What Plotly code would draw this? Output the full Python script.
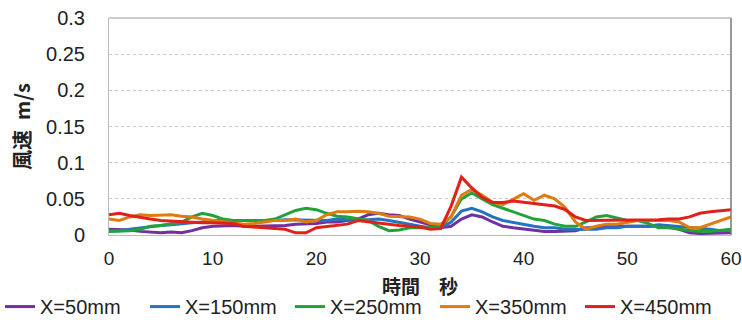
import plotly.graph_objects as go

time_s = list(range(0, 61))

x50 = [0.008,0.008,0.007,0.005,0.004,0.003,0.004,0.003,0.006,0.010,0.012,0.013,0.013,0.012,0.012,0.013,0.012,0.013,0.015,0.015,
       0.016,0.018,0.018,0.020,0.022,0.028,0.030,0.028,0.027,0.022,0.018,0.014,0.010,0.012,0.022,0.028,0.025,0.018,0.012,0.010,
       0.008,0.006,0.005,0.005,0.005,0.006,0.010,0.010,0.012,0.012,0.012,0.012,0.013,0.012,0.012,0.008,0.003,0.002,0.002,0.002,0.003]
x150 = [0.006,0.006,0.008,0.010,0.012,0.013,0.014,0.016,0.017,0.018,0.020,0.020,0.020,0.019,0.019,0.020,0.020,0.021,0.021,0.020,
        0.020,0.020,0.022,0.021,0.020,0.021,0.022,0.020,0.018,0.015,0.012,0.010,0.010,0.018,0.033,0.037,0.032,0.025,0.020,0.017,
        0.015,0.012,0.010,0.010,0.008,0.008,0.007,0.008,0.010,0.010,0.012,0.012,0.012,0.014,0.013,0.012,0.010,0.010,0.008,0.006,0.007]
x250 = [0.005,0.005,0.006,0.008,0.012,0.013,0.015,0.018,0.025,0.030,0.027,0.022,0.020,0.020,0.020,0.020,0.022,0.028,0.034,0.037,
        0.035,0.030,0.026,0.025,0.022,0.020,0.012,0.006,0.007,0.010,0.010,0.010,0.012,0.025,0.050,0.058,0.050,0.042,0.037,0.032,
        0.028,0.022,0.020,0.015,0.012,0.012,0.018,0.025,0.027,0.023,0.020,0.020,0.016,0.010,0.010,0.008,0.006,0.005,0.005,0.006,0.008]
x350 = [0.022,0.020,0.025,0.028,0.027,0.027,0.028,0.026,0.025,0.022,0.020,0.018,0.016,0.015,0.016,0.018,0.020,0.020,0.022,0.018,
        0.020,0.028,0.032,0.032,0.033,0.032,0.030,0.026,0.025,0.025,0.022,0.016,0.015,0.025,0.055,0.063,0.055,0.045,0.042,0.050,
        0.057,0.048,0.055,0.050,0.038,0.018,0.008,0.012,0.015,0.015,0.018,0.020,0.020,0.020,0.020,0.018,0.010,0.010,0.015,0.020,0.025]
x450 = [0.028,0.030,0.027,0.024,0.022,0.020,0.019,0.018,0.018,0.017,0.017,0.016,0.016,0.012,0.011,0.011,0.010,0.008,0.003,0.003,
        0.010,0.012,0.013,0.015,0.020,0.018,0.016,0.015,0.013,0.012,0.011,0.008,0.009,0.040,0.080,0.065,0.052,0.045,0.045,0.047,
        0.045,0.043,0.042,0.040,0.035,0.025,0.020,0.020,0.020,0.020,0.020,0.020,0.020,0.021,0.022,0.022,0.025,0.030,0.032,0.033,0.035]

series_names = ["X=50mm", "X=150mm", "X=250mm", "X=350mm", "X=450mm"]
series_values = [x50, x150, x250, x350, x450]
colors = ["#7030A0", "#2472C0", "#22A33A", "#E07B10", "#E0201B"]
x_title = "<b>時間　秒</b>"
y_title = "<b>風速\u2002m/s</b>"

fig = go.Figure()
for name, vals, col in zip(series_names, series_values, colors):
    fig.add_trace(go.Scatter(x=time_s, y=vals, name=name, mode="lines",
                             line=dict(color=col, width=3)))

font_main = "Liberation Sans, Arial, sans-serif"
cjk = "Noto Sans CJK JP, sans-serif"

fig.update_layout(
    width=742, height=325,
    margin=dict(l=109, r=11, t=18, b=90, autoexpand=False),
    paper_bgcolor="white", plot_bgcolor="white",
    font=dict(family=font_main, size=20, color="#222"),
    xaxis=dict(range=[0, 60], tickvals=[0, 10, 20, 30, 40, 50, 60],
               showgrid=False, zeroline=False, showline=True, linecolor="#bbbbbb",
               ticks="", ticklabelstandoff=6, tickfont=dict(size=19)),
    yaxis=dict(range=[0, 0.3], tickvals=[0, 0.05, 0.1, 0.15, 0.2, 0.25, 0.3],
               ticktext=["0", "0.05", "0.1", "0.15", "0.2", "0.25", "0.3"],
               showgrid=True, gridcolor="#c8c8c8", griddash="dot", gridwidth=1,
               zeroline=False, showline=True, linecolor="#bbbbbb", mirror=False,
               ticks="", ticklabelstandoff=19,
               title=dict(text=y_title, font=dict(family=cjk, size=20), standoff=10)),
    legend=dict(orientation="h", xref="paper", yref="paper", x=-109/622, y=-0.24,
                xanchor="left", yanchor="top", font=dict(size=20),
                entrywidth=100, itemwidth=30, tracegroupgap=0,
                bgcolor="rgba(0,0,0,0)"),
    showlegend=True,
)
fig.add_annotation(text=x_title, xref="paper", yref="paper", x=0.5, y=0,
                   xanchor="center", yanchor="top", yshift=-35, showarrow=False,
                   font=dict(family=cjk, size=19, color="#222"))
fig.add_shape(type="line", xref="paper", yref="paper", x0=1, x1=1, y0=0, y1=1,
              line=dict(color="#777777", width=1.5))
fig.add_shape(type="line", xref="paper", yref="paper", x0=0, x1=1, y0=1, y1=1,
              line=dict(color="#999999", width=1))

fig.write_html("out.html", config={"displayModeBar": False},
               post_script="document.body.style.margin='0';")
